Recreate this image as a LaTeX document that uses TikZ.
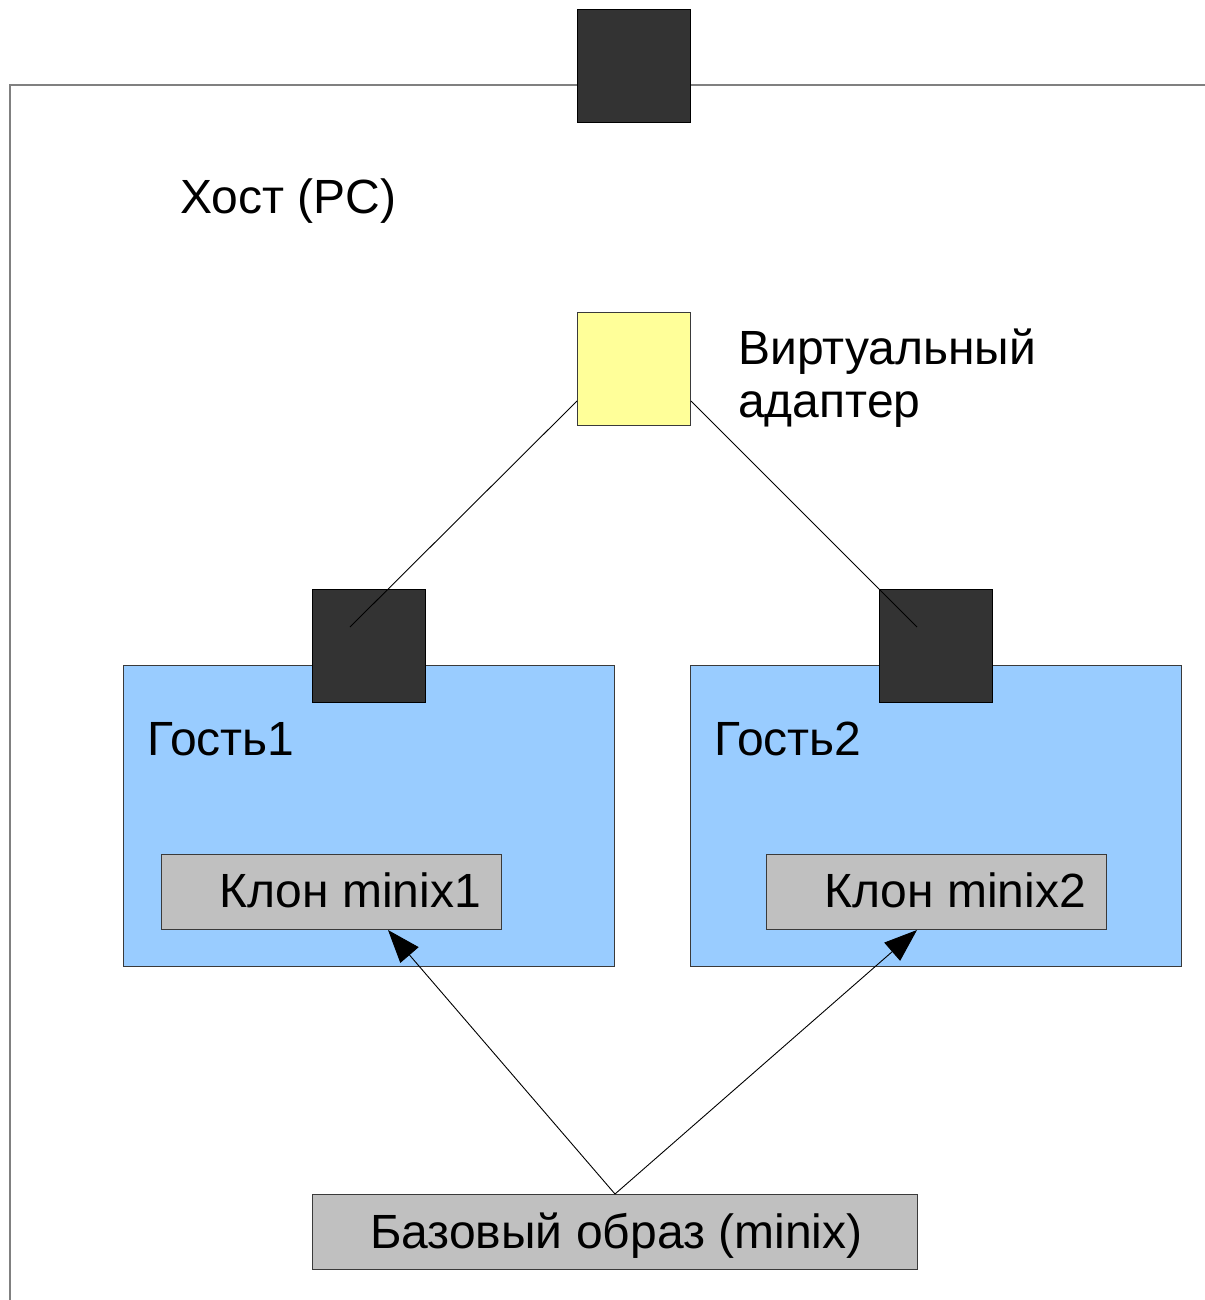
\documentclass[tikz,border=0pt]{standalone}
\usepackage{fontspec}
\setmainfont{Liberation Sans}
\usetikzlibrary{arrows.meta,calc}
\definecolor{darkport}{HTML}{333333}
\definecolor{adapteryellow}{HTML}{FFFF99}
\definecolor{guestblue}{HTML}{99CCFF}
\definecolor{imagegray}{HTML}{C0C0C0}
\definecolor{hostline}{HTML}{808080}
\definecolor{edgegray}{HTML}{3A3A3A}
\tikzset{
  port/.style={draw=black, fill=darkport, line width=1pt, minimum width=113pt, minimum height=113pt, inner sep=0pt, anchor=north west},
  adapter/.style={draw=edgegray, fill=adapteryellow, line width=1pt, minimum width=113pt, minimum height=113pt, inner sep=0pt, anchor=north west},
  guest/.style={draw=edgegray, fill=guestblue, line width=1pt, minimum width=491pt, minimum height=301pt, inner sep=0pt, anchor=north west},
  imagebox/.style={draw=edgegray, fill=imagegray, line width=1pt, inner sep=0pt, anchor=north west},
  label/.style={font=\fontsize{48}{55}\selectfont, inner sep=0pt, anchor=base west, text=black},
  wire/.style={draw=black, line width=0.9pt},
  clonearrow/.style={draw=black, line width=0.9pt, -{Triangle[length=33pt,width=24pt]}},
}
\begin{document}
\begin{tikzpicture}[x=1pt,y=-1pt]
\useasboundingbox (0,0) rectangle (1204,1300);
% host frame
\draw[hostline, line width=1.5pt] (10,1310) -- (10,85) -- (1215,85);
\node[port] (hostport) at (577,9) {};
\node[label] (hostlabel) at (180,213) {Хост (PC)};
% virtual adapter
\node[adapter] (adapter) at (577,312) {};
\node[label] (adapterlabel) at (738,364) {Виртуальный};
\node[label] (adapterlabel2) at (738,417) {адаптер};
% guests
\node[guest] (guest1) at (123,665) {};
\node[guest] (guest2) at (690,665) {};
\node[port] (port1) at (312,589) {};
\node[port] (port2) at (879,589) {};
\node[label] (g1label) at (147,755) {Гость1};
\node[label] (g2label) at (714,755) {Гость2};
% clones
\node[imagebox, minimum width=340pt, minimum height=75pt] (clone1) at (161,854) {};
\node[imagebox, minimum width=340pt, minimum height=75pt] (clone2) at (766,854) {};
\node[label] (c1label) at (219,907) {Клон minix1};
\node[label] (c2label) at (824,907) {Клон minix2};
% base image
\node[imagebox, minimum width=605pt, minimum height=75pt] (base) at (312,1194) {};
\node[label] (baselabel) at (370,1248) {Базовый образ (minix)};
% connector points
\coordinate (a1) at ($(adapter.south west)+(0,-25)$);
\coordinate (a2) at ($(adapter.south east)+(0,-25)$);
\coordinate (p1) at ($(port1.north west)+(38,38)$);
\coordinate (p2) at ($(port2.north west)+(38,38)$);
\coordinate (t1) at ($(clone1.south west)+(227,0)$);
\coordinate (t2) at ($(clone2.south west)+(151,0)$);
\draw[wire] (a1) -- (p1);
\draw[wire] (a2) -- (p2);
\draw[clonearrow] (base.north) -- (t1);
\draw[clonearrow] (base.north) -- (t2);
\end{tikzpicture}
\end{document}
